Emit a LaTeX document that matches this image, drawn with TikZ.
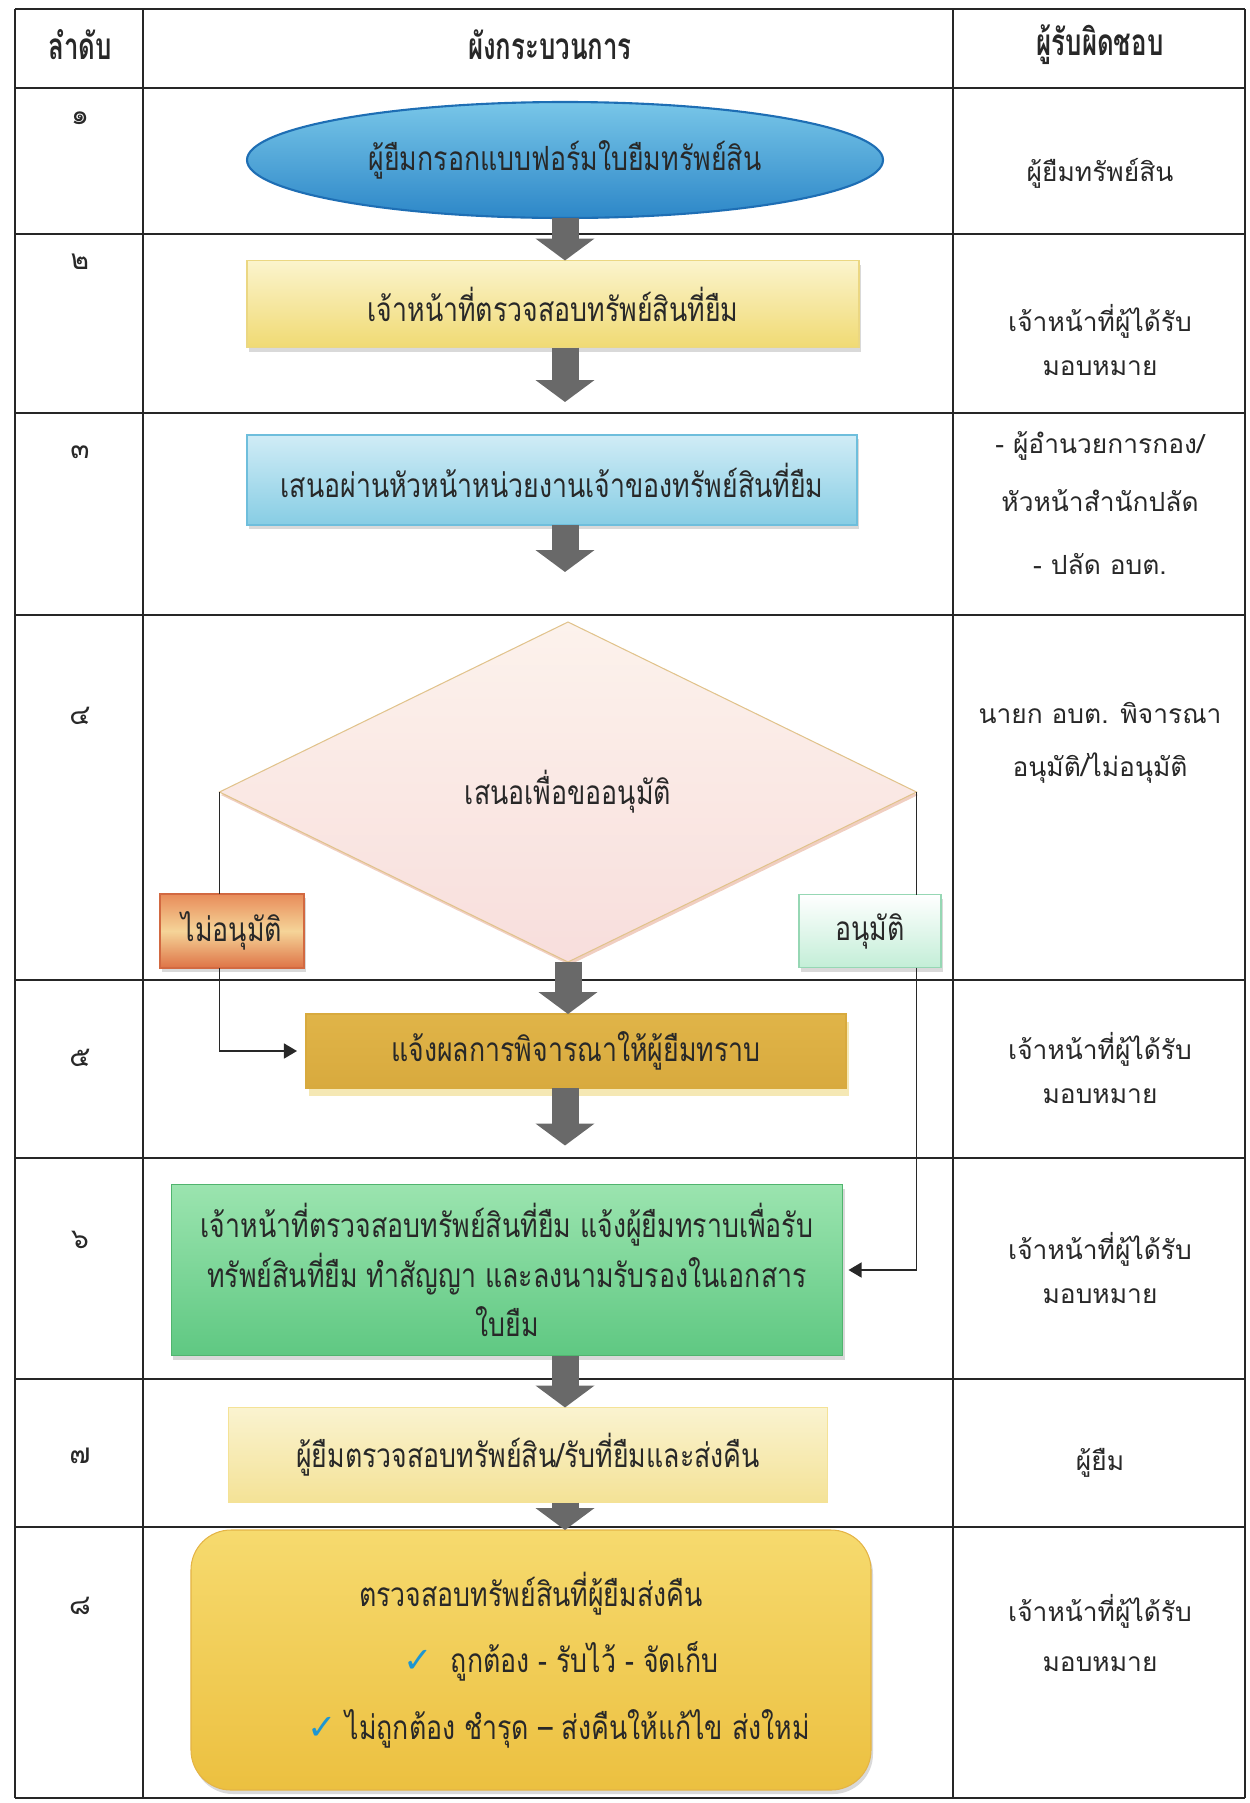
\documentclass[tikz,border=0pt]{standalone}
\usepackage{fontspec}
\setmainfont[Script=Thai]{Loma}
\newfontfamily\boxfont[Script=Thai, FakeStretch=0.8]{Loma}
\newfontfamily\headfont[Script=Thai, FakeStretch=0.7]{Loma}
\newfontfamily\tickfont{DejaVu Sans}
\usetikzlibrary{shapes.geometric,arrows.meta,shadows,positioning}
% colours
\definecolor{ink}{RGB}{40,40,40}
\definecolor{ellT}{RGB}{120,198,232}
\definecolor{ellB}{RGB}{45,135,200}
\definecolor{ellD}{RGB}{30,110,180}
\definecolor{twoT}{RGB}{251,244,205}
\definecolor{twoB}{RGB}{240,218,115}
\definecolor{twoD}{RGB}{235,215,130}
\definecolor{thrT}{RGB}{208,236,246}
\definecolor{thrB}{RGB}{135,205,228}
\definecolor{thrD}{RGB}{110,190,220}
\definecolor{decT}{RGB}{252,242,236}
\definecolor{decB}{RGB}{248,222,220}
\definecolor{decD}{RGB}{225,195,140}
\definecolor{noT}{RGB}{232,140,90}
\definecolor{noM}{RGB}{245,212,152}
\definecolor{noB}{RGB}{222,115,70}
\definecolor{noD}{RGB}{210,105,65}
\definecolor{yesB}{RGB}{195,238,215}
\definecolor{yesD}{RGB}{150,215,180}
\definecolor{fivT}{RGB}{224,180,72}
\definecolor{fivB}{RGB}{216,170,62}
\definecolor{fivP}{RGB}{245,232,180}
\definecolor{sixT}{RGB}{155,228,175}
\definecolor{sixB}{RGB}{95,200,130}
\definecolor{sixD}{RGB}{80,180,110}
\definecolor{sevT}{RGB}{250,243,208}
\definecolor{sevB}{RGB}{244,226,150}
\definecolor{eigT}{RGB}{246,218,110}
\definecolor{eigB}{RGB}{236,192,64}
\definecolor{eigD}{RGB}{228,180,70}
\definecolor{arrgray}{RGB}{105,105,105}
\definecolor{tick}{RGB}{30,150,210}
\tikzset{x=0.2mm, y=-0.2mm, % one unit is one pixel of the scan, y grows downwards
every node/.style={text=ink, inner sep=0pt, outer sep=0pt}, % text sits right on the shape
}

\begin{document}
\begin{tikzpicture}[
	rule/.style={line width=0.8pt, draw=black!85},
	head/.style={font=\headfont\bfseries\fontsize{21}{22}\selectfont},
	num/.style={font=\fontsize{16}{20}\selectfont},
	cell/.style={font=\fontsize{15}{25}\selectfont, align=center},
	lifted/.style={drop shadow={shadow xshift=0.4mm, shadow yshift=-0.8mm, opacity=0.3}},
	proc/.style args = {#1/#2/#3}{rectangle, top color=#1, bottom color=#2, draw=#3,
		line width=0.6pt, align=center, font=\boxfont\fontsize{19}{28}\selectfont},
	flow/.style={line width=5.4mm, draw=arrgray, -{Triangle[length=4.4mm, width=11.6mm]}},
	link/.style={line width=0.8pt, draw=ink, -{Triangle[length=2.6mm, width=3mm]}}]
\useasboundingbox (0,0) rectangle (1250,1803);
% the table
\foreach \yy in {9,88,234,413,615,980,1158,1379,1527,1798}
	\draw[rule] (15,\yy) -- (1245,\yy);
\foreach \xx in {15,143,953,1245}
	\draw[rule] (\xx,9) -- (\xx,1798);
\node[head] (h1) at (80,45) {ลำดับ};
\node[head] (h2) at (550,45) {ผังกระบวนการ};
\node[head] (h3) at (1100,45) {ผู้รับผิดชอบ};
\foreach \d/\yy [count=\i] in {๑/118,๒/262,๓/452,๔/716,๕/1058,๖/1240,๗/1456,๘/1606}
	\node[num] (n\i) at (80,\yy) {\d};
% who is in charge
\node[cell] (r1) at (1100,173) {ผู้ยืมทรัพย์สิน};
\node[cell] (r2) at (1100,340) {เจ้าหน้าที่ผู้ได้รับ\\มอบหมาย};
\node[cell, font=\fontsize{15}{33}\selectfont] (r3) at (1100,503) {- ผู้อำนวยการกอง/\\หัวหน้าสำนักปลัด\\[1mm]- ปลัด อบต.};
\node[cell, font=\fontsize{15}{30}\selectfont] (r4) at (1100,743) {นายก อบต. พิจารณา\\อนุมัติ/ไม่อนุมัติ};
\node[cell] (r5) at (1100,1068) {เจ้าหน้าที่ผู้ได้รับ\\มอบหมาย};
\node[cell] (r6) at (1100,1268) {เจ้าหน้าที่ผู้ได้รับ\\มอบหมาย};
\node[cell] (r7) at (1100,1463) {ผู้ยืม};
\node[cell, font=\fontsize{15}{28}\selectfont] (r8) at (1100,1633) {เจ้าหน้าที่ผู้ได้รับ\\มอบหมาย};
% the process
\node[proc=ellT/ellB/ellD, ellipse, line width=1.2pt, minimum width=127.2mm, minimum height=23.2mm] (1) at (565,160) {ผู้ยืมกรอกแบบฟอร์มใบยืมทรัพย์สิน};
\node[proc=twoT/twoB/twoD, lifted, minimum width=122.4mm, minimum height=17.4mm] (2) at (553,304) {เจ้าหน้าที่ตรวจสอบทรัพย์สินที่ยืม};
\node[proc=thrT/thrB/thrD, lifted, minimum width=122mm, minimum height=18mm] (3) at (552,480) {เสนอผ่านหัวหน้าหน่วยงานเจ้าของทรัพย์สินที่ยืม};
\node[proc=decT/decB/decD, diamond, aspect=2.05, minimum width=139.4mm, minimum height=68mm,
	general shadow={fill=decB!80!red!60!brown, shadow xshift=0.3mm, shadow yshift=-0.6mm, opacity=0.5}] (4) at (568,792) {เสนอเพื่อขออนุมัติ};
\node[proc=noT/noB/noD, middle color=noM, lifted, minimum width=28.8mm, minimum height=14.8mm] (no) at (232,931) {ไม่อนุมัติ};
\node[proc=white/yesB/yesD, lifted, minimum width=28.4mm, minimum height=14.6mm] (yes) at (870,931) {อนุมัติ};
\node[proc=fivT/fivB/fivB, general shadow={fill=fivP, shadow xshift=0.6mm, shadow yshift=-1.6mm, opacity=1},
	minimum width=108mm, minimum height=14.8mm] (5) at (576,1051) {แจ้งผลการพิจารณาให้ผู้ยืมทราบ};
\node[proc=sixT/sixB/sixD, lifted, minimum width=134.2mm, minimum height=34.2mm] (6) at (507,1270)
	{เจ้าหน้าที่ตรวจสอบทรัพย์สินที่ยืม แจ้งผู้ยืมทราบเพื่อรับ\\ทรัพย์สินที่ยืม ทำสัญญา และลงนามรับรองในเอกสาร\\ใบยืม};
\node[proc=sevT/sevB/sevB, minimum width=119.8mm, minimum height=19mm] (7) at (528,1455) {ผู้ยืมตรวจสอบทรัพย์สิน/รับที่ยืมและส่งคืน};
\node[proc=eigT/eigB/eigD, rounded corners=8mm, lifted, minimum width=136mm, minimum height=52mm,
	font=\boxfont\fontsize{19}{38}\selectfont] (8) at (531,1660)
	{ตรวจสอบทรัพย์สินที่ผู้ยืมส่งคืน\\
	\hspace*{12mm}{\tickfont\fontsize{20}{20}\selectfont\color{tick}✓}\ \ ถูกต้อง - รับไว้ - จัดเก็บ\\
	\hspace*{11mm}{\tickfont\fontsize{20}{20}\selectfont\color{tick}✓}\ ไม่ถูกต้อง ชำรุด – ส่งคืนให้แก้ไข ส่งใหม่};
% block arrows down the middle
\coordinate (spine) at (565,0);
\draw[flow] (1.south -| spine) -- (2.north -| spine);
\draw[flow, shorten >=6.6mm] (2.south -| spine) -- (3.north -| spine);
\draw[flow, shorten >=10mm] (3.south -| spine) -- (4.north -| spine);
\draw[flow] (4.south) -- (5.north -| 4.south);
\draw[flow, shorten >=7.8mm] (5.south -| spine) -- (6.north -| spine);
\draw[flow] (6.south -| spine) -- (7.north -| spine);
\draw[flow] (7.south -| spine) -- (8.north -| spine);
% the two branches
\draw[link, -] (4.west) -- (4.west |- no.north);
\draw[link, shorten >=1.8mm] (4.west |- no.south) |- (5.west);
\draw[link, -] (4.east) -- (4.east |- yes.north);
\draw[link, shorten >=1.2mm] (4.east |- yes.south) |- (6.east);
\end{tikzpicture}
\end{document}
